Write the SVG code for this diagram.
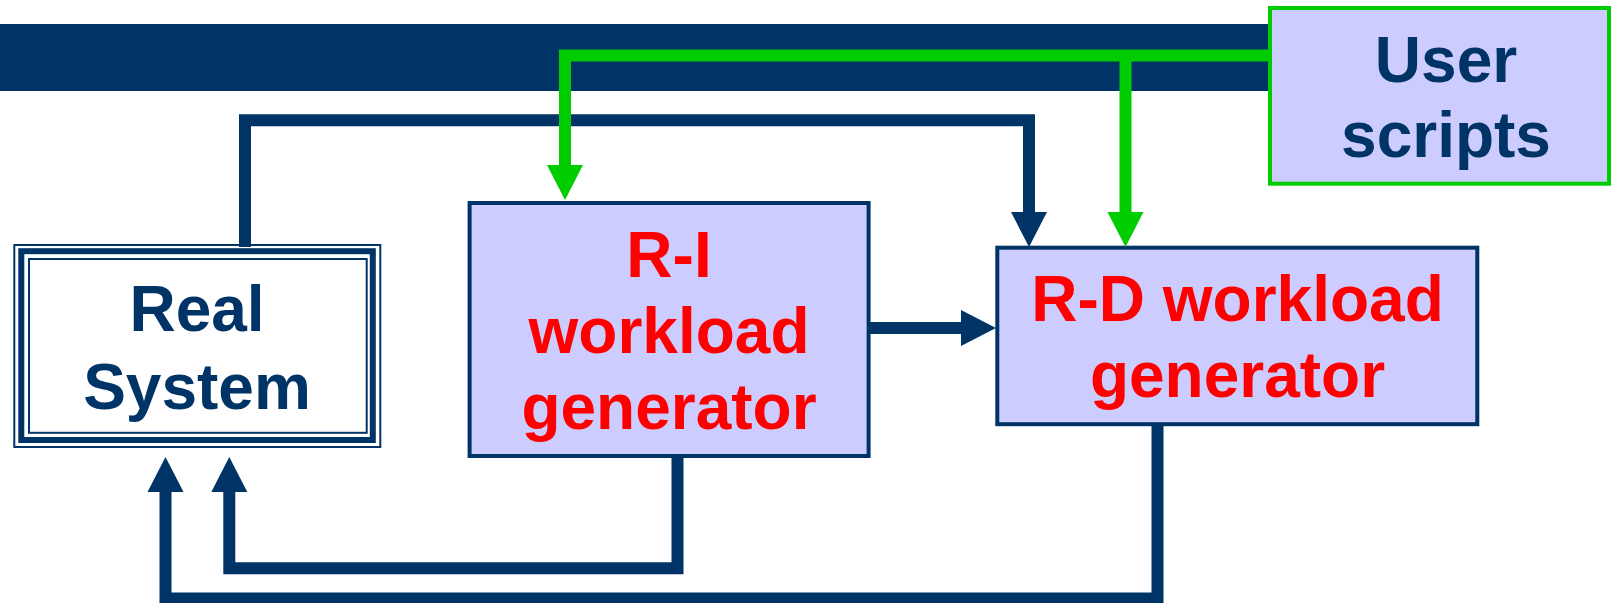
<svg xmlns="http://www.w3.org/2000/svg" width="1612" height="603" viewBox="0 0 1612 603">
  <style>
    .lbl { font-family: "Liberation Sans", Arial, sans-serif; font-weight: bold; font-size: 64px; text-anchor: middle; }
    .navy { fill: #003366; }
    .red { fill: #FF0000; }
    .gen { fill: #CCCCFF; stroke: #003366; stroke-width: 4; }
    .wire { fill: none; stroke-width: 12; stroke-linejoin: miter; }
    .wire-navy { stroke: #003366; marker-end: url(#headNavy); }
    .wire-green { stroke: #00CC00; marker-end: url(#headGreen); }
  </style>
  <defs>
    <marker id="headNavy" markerUnits="userSpaceOnUse" viewBox="0 -18 35 36" refX="0" refY="0" markerWidth="35" markerHeight="36" orient="auto" overflow="visible">
      <path d="M0,-18 L35,0 L0,18 Z" fill="#003366"/>
    </marker>
    <marker id="headGreen" markerUnits="userSpaceOnUse" viewBox="0 -18 35 36" refX="0" refY="0" markerWidth="35" markerHeight="36" orient="auto" overflow="visible">
      <path d="M0,-18 L35,0 L0,18 Z" fill="#00CC00"/>
    </marker>
  </defs>

  <rect width="1612" height="603" fill="#FFFFFF"/>

  <!-- header band -->
  <rect id="band" x="0" y="24" width="1272" height="67" fill="#003366"/>

  <!-- Real System: triple border -->
  <g id="real-system">
    <rect x="14.3" y="245" width="366" height="202" fill="#FFFFFF" stroke="#003366" stroke-width="2"/>
    <rect x="21.3" y="251.2" width="351.5" height="188.8" fill="none" stroke="#003366" stroke-width="6"/>
    <rect x="29" y="259" width="337.7" height="173.8" fill="none" stroke="#003366" stroke-width="2"/>
    <text class="lbl navy" x="197" y="331">Real</text>
    <text class="lbl navy" x="197" y="409">System</text>
  </g>

  <!-- R-I workload generator -->
  <g id="ri-generator">
    <rect class="gen" x="469.6" y="203" width="399" height="253"/>
    <text class="lbl red" x="669" y="277">R-I</text>
    <text class="lbl red" x="669" y="353">workload</text>
    <text class="lbl red" x="669" y="429">generator</text>
  </g>

  <!-- R-D workload generator -->
  <g id="rd-generator">
    <rect class="gen" x="997.3" y="247.7" width="480" height="176.5"/>
    <text class="lbl red" x="1237.5" y="321">R-D workload</text>
    <text class="lbl red" x="1237.5" y="397">generator</text>
  </g>

  <!-- User scripts -->
  <g id="user-scripts">
    <rect x="1270" y="8" width="339" height="175.7" fill="#CCCCFF" stroke="#00CC00" stroke-width="4"/>
    <text class="lbl navy" x="1446" y="82">User</text>
    <text class="lbl navy" x="1446" y="157">scripts</text>
  </g>

  <!-- connectors -->
  <g id="connectors">
    <path class="wire wire-navy" d="M245,247 V120.3 H1029 V212"/>
    <path class="wire wire-green" d="M1268,55.5 H565 V165"/>
    <path class="wire wire-green" d="M1125.5,55.5 V212"/>
    <path class="wire wire-navy" d="M870,328 H961"/>
    <path class="wire wire-navy" d="M677.5,457 V568.3 H229.3 V492"/>
    <path class="wire wire-navy" d="M1157.5,425 V598.5 H165.5 V492"/>
  </g>
</svg>
